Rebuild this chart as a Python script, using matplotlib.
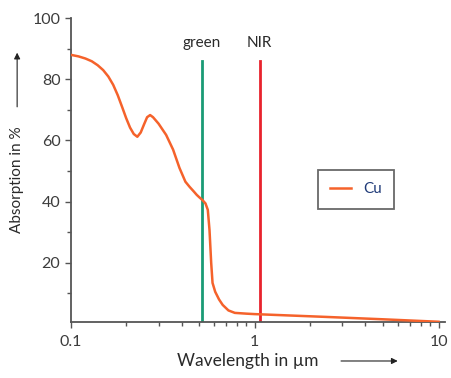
import numpy as np
import matplotlib
matplotlib.use("Agg")
import matplotlib.pyplot as plt
from matplotlib.ticker import FixedLocator, NullFormatter

plt.rcParams['font.family'] = ['Lato', 'DejaVu Sans']

# Cu absorption curve
wavelength = [0.1, 0.11, 0.12, 0.13, 0.14, 0.15, 0.16, 0.17, 0.18, 0.19, 0.20,
              0.21, 0.22, 0.23, 0.24, 0.25, 0.26, 0.27, 0.28, 0.30, 0.33, 0.36,
              0.39, 0.42, 0.443, 0.465, 0.484, 0.50, 0.52, 0.54, 0.556, 0.568,
              0.58, 0.59, 0.61, 0.64, 0.67, 0.72, 0.78, 0.9, 1.0, 2.4, 5.0, 10.0]
absorption = [88, 87.5, 86.8, 85.9, 84.6, 83.0, 80.9, 78.2, 74.8, 71.0, 67.3,
              64.2, 62.1, 61.2, 62.6, 65.2, 67.6, 68.3, 67.6, 65.5, 61.8, 57.0,
              51.0, 46.5, 44.8, 43.4, 42.2, 41.4, 40.5, 39.4, 37.3, 30.7,
              20.0, 13.4, 10.5, 8.0, 6.2, 4.4, 3.6, 3.35, 3.2, 2.3, 1.5, 0.7]

markers_x = [0.515, 1.064]
markers_lbl = ["green", "NIR"]
markers_col = ["#1a9b75", "#e8232d"]

y_major = [20, 40, 60, 80, 100]
y_minor = [10, 30, 50, 70, 90]

CU = "#f5622b"
TXT = "#3c3c3c"

fig = plt.figure(figsize=(4.51, 3.78), dpi=100)
ax = fig.add_axes([0.157, 0.148, 0.829, 0.804])

ax.plot(wavelength, absorption, color=CU, lw=1.8, label="Cu", zorder=3,
        solid_joinstyle="round")
for x, lbl, c in zip(markers_x, markers_lbl, markers_col):
    ax.plot([x, x], [0.6, 86], color=c, lw=2.0, zorder=2)
    ax.text(x, 89.5, lbl, ha="center", va="bottom", fontsize=11, color="#2a2a2a")

ax.set_xscale("log")
ax.set_xlim(0.1, 10.8)
ax.set_ylim(0.6, 100)
ax.xaxis.set_major_locator(FixedLocator([0.1, 1, 10]))
ax.set_xticklabels(["0.1", "1", "10"])
ax.xaxis.set_minor_formatter(NullFormatter())
ax.yaxis.set_major_locator(FixedLocator(y_major))
ax.yaxis.set_minor_locator(FixedLocator(y_minor))

for s in ("top", "right"):
    ax.spines[s].set_visible(False)
for s in ("left", "bottom"):
    ax.spines[s].set_color("#555555")
    ax.spines[s].set_linewidth(1.3)
ax.tick_params(which="both", colors="#555555", labelcolor=TXT, labelsize=11.5)
ax.tick_params(which="major", length=4, width=1)
ax.tick_params(which="minor", length=3, width=1)
ax.tick_params(axis="x", pad=5)

leg = ax.legend(loc="upper left", bbox_to_anchor=(0.66, 0.5), fontsize=11,
                frameon=True, fancybox=False, handlelength=1.4, borderpad=0.8,
                handletextpad=0.8, borderaxespad=0)
leg.get_frame().set_edgecolor("#444444")
leg.get_frame().set_linewidth(1.3)
for t in leg.get_texts():
    t.set_color("#1f3a78")

# axis titles with arrows
fig.text(0.038, 0.525, "Absorption in %", rotation=90, ha="center", va="center",
         fontsize=11, color="#2a2a2a")
fig.add_artist(matplotlib.patches.FancyArrowPatch(
    (0.038, 0.71), (0.038, 0.868), transform=fig.transFigure,
    arrowstyle="-|>", mutation_scale=9, color="#222222", lw=0.8))
fig.text(0.55, 0.045, "Wavelength in µm", ha="center", va="center",
         fontsize=12.5, color="#2a2a2a")
fig.add_artist(matplotlib.patches.FancyArrowPatch(
    (0.75, 0.045), (0.888, 0.045), transform=fig.transFigure,
    arrowstyle="-|>", mutation_scale=9, color="#222222", lw=0.8))

fig.savefig("out.png", dpi=100)
